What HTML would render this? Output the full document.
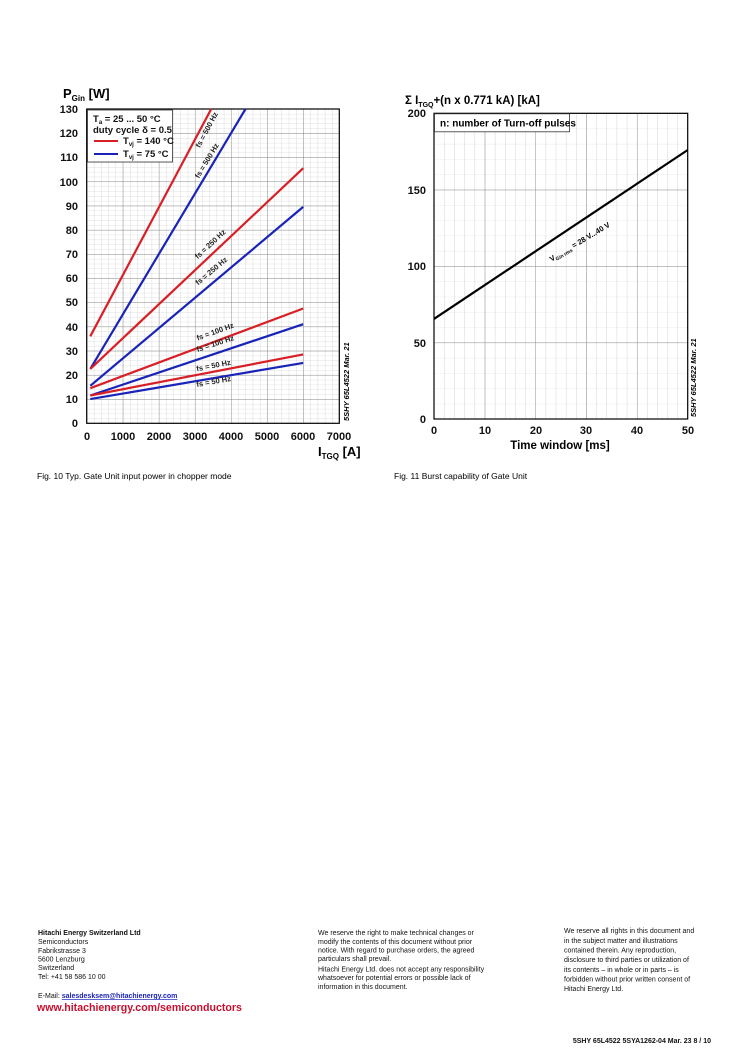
<!DOCTYPE html>
<html><head><meta charset="utf-8"><style>
body{margin:0;background:#fff;}
svg{display:block;font-family:"Liberation Sans",Arial,sans-serif;}
.b{font-weight:bold;}
</style></head><body>
<svg width="750" height="1061" viewBox="0 0 750 1061" xmlns="http://www.w3.org/2000/svg">
<defs>
<pattern id="lmin" patternUnits="userSpaceOnUse" x="86.7" y="423.3" width="7.217" height="4.835">
<path d="M0 0V4.835M0 0H7.217" stroke="#c4c4c4" stroke-width="0.6" fill="none"/></pattern>
<pattern id="lmaj" patternUnits="userSpaceOnUse" x="86.7" y="423.3" width="36.086" height="24.177">
<path d="M0 0V24.177M0 0H36.086" stroke="#8a8a8a" stroke-width="0.9" fill="none"/></pattern>
<pattern id="rmin" patternUnits="userSpaceOnUse" x="434" y="419" width="10.148" height="15.285">
<path d="M0 0V15.285" stroke="#c4c4c4" stroke-width="0.7" fill="none"/><path d="M0 0H10.148" stroke="#c4c4c4" stroke-width="0.6" stroke-dasharray="2 1" fill="none"/></pattern>
<pattern id="rmaj" patternUnits="userSpaceOnUse" x="434" y="419" width="50.74" height="76.425">
<path d="M0 0V76.425M0 0H50.74" stroke="#8a8a8a" stroke-width="0.9" fill="none"/></pattern>
</defs>

<!-- LEFT CHART -->
<rect x="86.7" y="109" width="252.6" height="314.3" fill="url(#lmin)"/>
<rect x="86.7" y="109" width="252.6" height="314.3" fill="url(#lmaj)"/>
<rect x="86.7" y="109" width="252.6" height="314.3" fill="none" stroke="#000" stroke-width="1.2"/>
<g stroke-width="2.2" fill="none">
<line x1="90.3" y1="336.3" x2="211.2" y2="109" stroke="#d91f26"/>
<line x1="90.3" y1="368.9" x2="245.5" y2="109" stroke="#1a23b8"/>
<line x1="90.3" y1="368.9" x2="303.2" y2="168.2" stroke="#d91f26"/>
<line x1="90.3" y1="385.8" x2="303.2" y2="206.9" stroke="#1a23b8"/>
<line x1="90.3" y1="388.2" x2="303.2" y2="308.5" stroke="#d91f26"/>
<line x1="90.3" y1="395.5" x2="303.2" y2="324.2" stroke="#1a23b8"/>
<line x1="90.3" y1="395.5" x2="303.2" y2="354.4" stroke="#d91f26"/>
<line x1="90.3" y1="399.1" x2="303.2" y2="362.9" stroke="#1a23b8"/>
</g>
<g font-size="7.5" class="b" fill="#222" text-anchor="middle">
<text transform="translate(209,131) rotate(-62)">fs = 500 Hz</text>
<text transform="translate(209,162) rotate(-59)">fs = 500 Hz</text>
<text transform="translate(212,246) rotate(-43)">fs = 250 Hz</text>
<text transform="translate(213,273) rotate(-40)">fs = 250 Hz</text>
<text transform="translate(216,334) rotate(-20)">fs = 100 Hz</text>
<text transform="translate(216,346) rotate(-18)">fs = 100 Hz</text>
<text transform="translate(214,368) rotate(-11)">fs = 50 Hz</text>
<text transform="translate(214,384) rotate(-10)">fs = 50 Hz</text>
</g>
<!-- legend -->
<rect x="87.5" y="110" width="85" height="52" fill="#fff" stroke="#333" stroke-width="0.8"/>
<g font-size="9.5" class="b" fill="#111">
<text x="93" y="122">T<tspan font-size="6" dy="2">a</tspan><tspan dy="-2"> = 25 ... 50 °C</tspan></text>
<text x="93" y="133">duty cycle δ = 0.5</text>
<line x1="94" y1="141" x2="118" y2="141" stroke="#d91f26" stroke-width="2"/>
<text x="123" y="144">T<tspan font-size="6" dy="2">vj</tspan><tspan dy="-2"> = 140 °C</tspan></text>
<line x1="94" y1="154" x2="118" y2="154" stroke="#1a23b8" stroke-width="2"/>
<text x="123" y="157">T<tspan font-size="6" dy="2">vj</tspan><tspan dy="-2"> = 75 °C</tspan></text>
</g>
<g font-size="11" class="b" fill="#111" text-anchor="end">
<text x="78" y="113">130</text><text x="78" y="137">120</text><text x="78" y="161">110</text>
<text x="78" y="186">100</text><text x="78" y="210">90</text><text x="78" y="234">80</text>
<text x="78" y="258">70</text><text x="78" y="282">60</text><text x="78" y="306">50</text>
<text x="78" y="331">40</text><text x="78" y="355">30</text><text x="78" y="379">20</text>
<text x="78" y="403">10</text><text x="78" y="427">0</text>
</g>
<g font-size="11" class="b" fill="#111" text-anchor="middle">
<text x="87" y="440">0</text><text x="123" y="440">1000</text><text x="159" y="440">2000</text>
<text x="195" y="440">3000</text><text x="231" y="440">4000</text><text x="267" y="440">5000</text>
<text x="303" y="440">6000</text><text x="339" y="440">7000</text>
</g>
<text x="63" y="98" font-size="13" class="b">P<tspan font-size="8" dy="3">Gin</tspan><tspan dy="-3"> [W]</tspan></text>
<text x="318" y="456" font-size="13" class="b">I<tspan font-size="8" dy="3">TGQ</tspan><tspan dy="-3"> [A]</tspan></text>
<text transform="translate(349,421) rotate(-90)" font-size="7.5" font-weight="bold" font-style="italic">5SHY 65L4522 Mar. 21</text>
<text x="37" y="479" font-size="8.5">Fig. 10 Typ. Gate Unit input power in chopper mode</text>

<!-- RIGHT CHART -->
<rect x="434" y="113.3" width="253.7" height="305.7" fill="url(#rmin)"/>
<rect x="434" y="113.3" width="253.7" height="305.7" fill="url(#rmaj)"/>
<rect x="434" y="113.3" width="253.7" height="305.7" fill="none" stroke="#000" stroke-width="1.2"/>
<line x1="434" y1="318.9" x2="687.7" y2="150" stroke="#000" stroke-width="2.2"/>
<rect x="434.5" y="113.8" width="135" height="18" fill="#fff" stroke="#333" stroke-width="0.8"/>
<text x="440" y="126.5" font-size="10" class="b">n: number of Turn-off pulses</text>
<text transform="translate(581,244) rotate(-31)" font-size="7.5" class="b" text-anchor="middle">V<tspan font-size="5" dy="2">Gin rms</tspan><tspan dy="-2"> = 28 V...40 V</tspan></text>
<g font-size="11" class="b" fill="#111" text-anchor="end">
<text x="426" y="117">200</text><text x="426" y="194">150</text><text x="426" y="270">100</text>
<text x="426" y="347">50</text><text x="426" y="423">0</text>
</g>
<g font-size="11" class="b" fill="#111" text-anchor="middle">
<text x="434" y="434">0</text><text x="485" y="434">10</text><text x="536" y="434">20</text>
<text x="586" y="434">30</text><text x="637" y="434">40</text><text x="688" y="434">50</text>
</g>
<text x="405" y="104" font-size="11.5" class="b">Σ I<tspan font-size="7" dy="3">TGQ</tspan><tspan dy="-3">+(n x 0.771 kA) [kA]</tspan></text>
<text x="560" y="449" font-size="11.5" class="b" text-anchor="middle">Time window [ms]</text>
<text transform="translate(696,417) rotate(-90)" font-size="7.5" font-weight="bold" font-style="italic">5SHY 65L4522 Mar. 21</text>
<text x="394" y="479" font-size="8.5">Fig. 11 Burst capability of Gate Unit</text>

<!-- FOOTER -->
<g font-size="7" fill="#111">
<text x="38" y="935" class="b">Hitachi Energy Switzerland Ltd</text>
<text x="38" y="944">Semiconductors</text>
<text x="38" y="953">Fabrikstrasse 3</text>
<text x="38" y="961.5">5600 Lenzburg</text>
<text x="38" y="970">Switzerland</text>
<text x="38" y="979">Tel: +41 58 586 10 00</text>
<text x="38" y="998">E-Mail: <tspan fill="#1a23b8" text-decoration="underline" font-weight="bold">salesdesksem@hitachienergy.com</tspan></text>
<text x="318" y="935">We reserve the right to make technical changes or</text>
<text x="318" y="944">modify the contents of this document without prior</text>
<text x="318" y="952.5">notice. With regard to purchase orders, the agreed</text>
<text x="318" y="961">particulars shall prevail.</text>
<text x="318" y="971.5">Hitachi Energy Ltd. does not accept any responsibility</text>
<text x="318" y="980">whatsoever for potential errors or possible lack of</text>
<text x="318" y="989">information in this document.</text>
<text x="564" y="933">We reserve all rights in this document and</text>
<text x="564" y="943">in the subject matter and illustrations</text>
<text x="564" y="952.5">contained therein. Any reproduction,</text>
<text x="564" y="962">disclosure to third parties or utilization of</text>
<text x="564" y="972">its contents – in whole or in parts – is</text>
<text x="564" y="981.5">forbidden without prior written consent of</text>
<text x="564" y="991">Hitachi Energy Ltd.</text>
<text x="711" y="1043" class="b" text-anchor="end">5SHY 65L4522 5SYA1262-04 Mar. 23  8 / 10</text>
</g>
<text x="37" y="1011" font-size="10.6" class="b" fill="#c8102e">www.hitachienergy.com/semiconductors</text>
</svg>
</body></html>
